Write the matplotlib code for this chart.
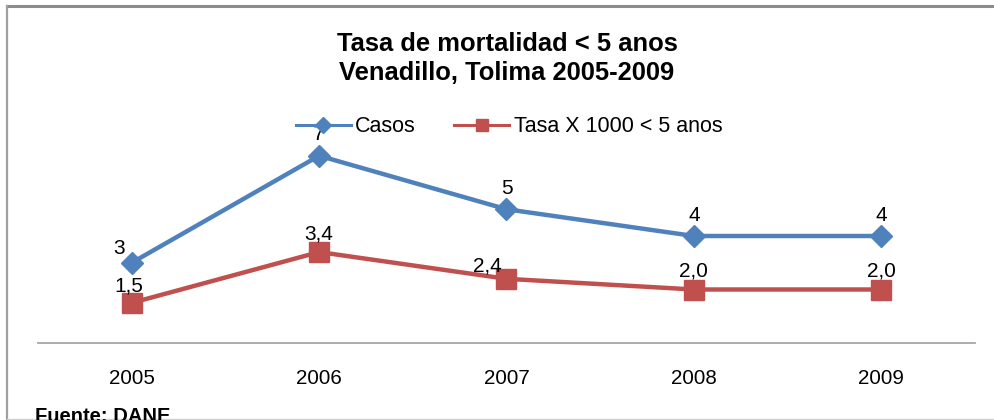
import matplotlib
matplotlib.use("Agg")
import matplotlib.pyplot as plt
from matplotlib.lines import Line2D

plt.rcParams['font.family'] = ['Liberation Sans', 'DejaVu Sans']

years = ["2005", "2006", "2007", "2008", "2009"]
casos = [3, 7, 5, 4, 4]
tasa = [1.5, 3.4, 2.4, 2.0, 2.0]
casos_labels = ["3", "7", "5", "4", "4"]
tasa_labels = ["1,5", "3,4", "2,4", "2,0", "2,0"]

W, H = 995, 420
DPI = 100
fig = plt.figure(figsize=(W / DPI, H / DPI), dpi=DPI)
fig.patch.set_facecolor("white")

def px(x0, y0, x1, y1):
    return [x0 / W, 1 - y1 / H, (x1 - x0) / W, (y1 - y0) / H]

ax = fig.add_axes(px(38, 129, 975, 343))
ax.set_xlim(-0.5, 4.5)
ax.set_ylim(0, 8)

blue = "#4F81BD"
red = "#C0504D"
x = list(range(len(years)))

ax.plot(x, casos, color=blue, lw=3.2, marker="D", markersize=11, zorder=3,
        solid_capstyle="round")
ax.plot(x, tasa, color=red, lw=3.2, marker="s", markersize=14, zorder=3,
        solid_capstyle="round")

label_fs = 15
casos_off = [(-9, 10), (0, 15), (0, 15), (0, 15), (0, 15)]
tasa_off = [(-2, 12), (0, 13), (-14, 9), (0, 13), (0, 13)]
for xi, v, t, o in zip(x, casos, casos_labels, casos_off):
    ax.annotate(t, (xi, v), xytext=o, textcoords="offset points",
                ha="center", va="center", fontsize=label_fs, zorder=5)
for xi, v, t, o in zip(x, tasa, tasa_labels, tasa_off):
    ax.annotate(t, (xi, v), xytext=o, textcoords="offset points",
                ha="center", va="center", fontsize=label_fs, zorder=5)

for s in ["top", "right", "left"]:
    ax.spines[s].set_visible(False)
ax.spines["bottom"].set_color("#A6A6A6")
ax.spines["bottom"].set_linewidth(1.3)
ax.set_yticks([])
ax.set_xticks(x)
ax.set_xticklabels(years, fontsize=14.8)
ax.tick_params(axis="x", length=0, pad=19)
ax.set_facecolor("none")

fig.text(507 / W, 1 - 44 / H, "Tasa de mortalidad < 5 anos", ha="center",
         va="center", fontsize=18.4, fontweight="bold")
fig.text(507 / W, 1 - 73 / H, "Venadillo, Tolima 2005-2009", ha="center",
         va="center", fontsize=18.4, fontweight="bold")

handles = [
    Line2D([], [], color=blue, lw=2.2, marker="D", markersize=8),
    Line2D([], [], color=red, lw=2.2, marker="s", markersize=9),
]
fig.legend(handles, ["Casos", "Tasa X 1000 < 5 anos"], loc="center",
           bbox_to_anchor=(509 / W, 1 - 127 / H), ncol=2, frameon=False,
           fontsize=15.5, handlelength=2.55, handletextpad=0.2,
           columnspacing=1.8)

fig.text(35 / W, 1 - 416 / H, "Fuente: DANE", ha="left", va="center",
         fontsize=14.5, fontweight="bold")

# outer frame
fig.add_artist(Line2D([7 / W, 1], [1 - 5.5 / H, 1 - 5.5 / H],
                      color="#8C8C8C", lw=2.2, transform=fig.transFigure))
fig.add_artist(Line2D([7 / W, 7 / W], [0, 1 - 5.5 / H],
                      color="#A0A0A0", lw=1.6, transform=fig.transFigure))
fig.add_artist(Line2D([7 / W, 1], [1 - 418.5 / H, 1 - 418.5 / H],
                      color="#D0D0D0", lw=1.0, transform=fig.transFigure))

fig.savefig("out.png", dpi=DPI)
